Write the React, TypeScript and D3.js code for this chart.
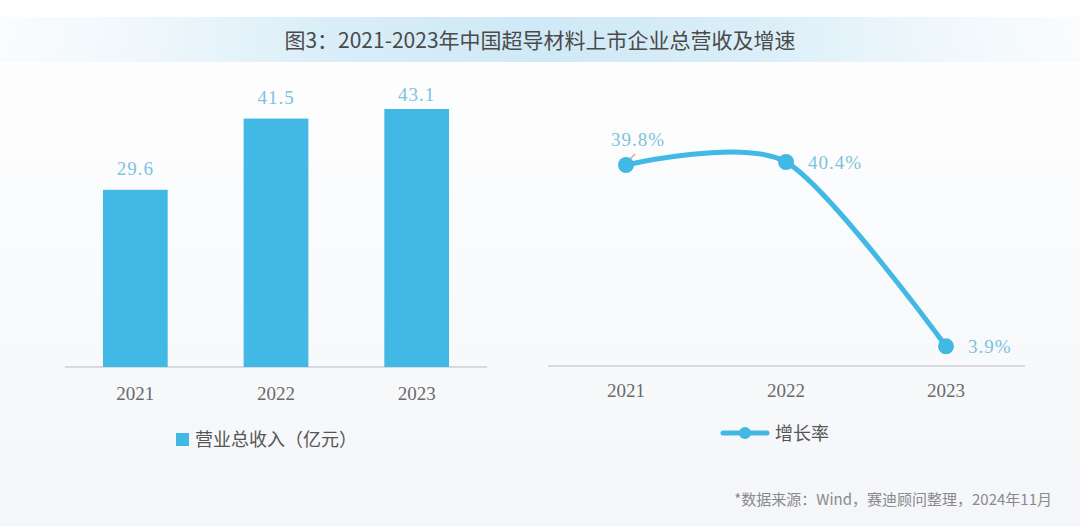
import React from "react";
import * as d3 from "d3";

// chart data
const years = ["2021", "2022", "2023"];
const revenue = [29.6, 41.5, 43.1];
const growth = [39.8, 40.4, 3.9];
const revenueLabels = ["29.6", "41.5", "43.1"];
const growthLabels = ["39.8%", "40.4%", "3.9%"];

const W = 1080;
const H = 526;
const BLUE = "#42b8e4";
const LABEL_BLUE = "#7cc3de";
const numFont = "'Liberation Serif', 'DejaVu Serif', serif";
const cjkFont = "'Noto Sans CJK SC', sans-serif";

const App: React.FC = () => {
  // left bar chart
  const xBar = d3.scaleBand<string>().domain(years).range([65, 487]).paddingInner(0.54).paddingOuter(0.27);
  const yBar = d3.scaleLinear().domain([0, 43.1]).range([367, 109]);

  // right line chart
  const xLine = d3.scalePoint<string>().domain(years).range([546, 1026]).padding(0.5);
  const yLine = d3.scaleLinear().domain([0, 40.4]).range([366, 162]);
  const pts: [number, number][] = years.map((y, i) => [xLine(y)!, yLine(growth[i])]);
  const linePath = d3.line().curve(d3.curveCardinal.tension(0.2))(pts) || "";

  return (
    <div>
      <style>{`body{margin:0;}`}</style>
      <svg width={W} height={H} style={{ display: "block" }}>
        <defs>
          <linearGradient id="bg" x1="0" y1="0" x2="0" y2="1">
            <stop offset="0" stopColor="#ffffff" />
            <stop offset="1" stopColor="#f4f6f9" />
          </linearGradient>
          <linearGradient id="band" x1="0" y1="0" x2="1" y2="0">
            <stop offset="0" stopColor="#eef6fb" stopOpacity="0.3" />
            <stop offset="0.3" stopColor="#d9eef8" />
            <stop offset="0.5" stopColor="#cfe9f6" />
            <stop offset="0.7" stopColor="#d9eef8" />
            <stop offset="1" stopColor="#eef6fb" stopOpacity="0.3" />
          </linearGradient>
        </defs>
        <rect width={W} height={H} fill="url(#bg)" />
        <rect x={0} y={17} width={W} height={45} fill="url(#band)" />
        <text x={540} y={48} textAnchor="middle" fontFamily={cjkFont} fontSize={21} fill="#4a4a4a">
          图3：2021-2023年中国超导材料上市企业总营收及增速
        </text>

        {/* bars */}
        <line x1={65} x2={487} y1={367} y2={367} stroke="#d9dadf" strokeWidth={2} />
        {years.map((y, i) => (
          <g key={y}>
            <rect x={xBar(y)} y={yBar(revenue[i])} width={xBar.bandwidth()} height={yBar(0) - yBar(revenue[i])} fill={BLUE} />
            <text
              x={xBar(y)! + xBar.bandwidth() / 2}
              y={Math.max(yBar(revenue[i]) - 15, 101)}
              textAnchor="middle"
              fontFamily={numFont}
              fontSize={19}
              letterSpacing={1}
              fill={LABEL_BLUE}
            >
              {revenueLabels[i]}
            </text>
            <text x={xBar(y)! + xBar.bandwidth() / 2} y={400} textAnchor="middle" fontFamily={numFont} fontSize={19} fill="#6a6a6a">
              {y}
            </text>
          </g>
        ))}
        <rect x={176} y={433} width={13} height={13} fill={BLUE} />
        <text x={195} y={446} fontFamily={cjkFont} fontSize={18} fill="#555">
          营业总收入（亿元）
        </text>

        {/* line */}
        <line x1={548} x2={1025} y1={366} y2={366} stroke="#d9dadf" strokeWidth={2} />
        <path d={linePath} fill="none" stroke={BLUE} strokeWidth={5} strokeLinecap="round" />
        <line x1={pts[0][0] + 2} y1={pts[0][1] - 4} x2={pts[0][0] + 9} y2={pts[0][1] - 11} stroke="#c8a0a0" strokeWidth={1.2} />
        {pts.map((p, i) => (
          <circle key={i} cx={p[0]} cy={p[1]} r={8} fill={BLUE} />
        ))}
        <text x={pts[0][0] + 12} y={pts[0][1] - 19} textAnchor="middle" fontFamily={numFont} fontSize={19} letterSpacing={1} fill={LABEL_BLUE}>
          {growthLabels[0]}
        </text>
        <text x={pts[1][0] + 22} y={pts[1][1] + 7} fontFamily={numFont} fontSize={19} letterSpacing={1} fill={LABEL_BLUE}>
          {growthLabels[1]}
        </text>
        <text x={pts[2][0] + 22} y={pts[2][1] + 7} fontFamily={numFont} fontSize={19} letterSpacing={1} fill={LABEL_BLUE}>
          {growthLabels[2]}
        </text>
        {years.map((y) => (
          <text key={y} x={xLine(y)} y={397} textAnchor="middle" fontFamily={numFont} fontSize={19} fill="#6a6a6a">
            {y}
          </text>
        ))}
        <line x1={723} x2={767} y1={433} y2={433} stroke={BLUE} strokeWidth={5} strokeLinecap="round" />
        <circle cx={745} cy={433} r={6} fill={BLUE} />
        <text x={775} y={440} fontFamily={cjkFont} fontSize={18} fill="#555">
          增长率
        </text>

        <text x={1052} y={505} textAnchor="end" fontFamily={cjkFont} fontSize={15} fill="#8a8a8a">
          *数据来源：Wind，赛迪顾问整理，2024年11月
        </text>
      </svg>
    </div>
  );
};

export default App;
